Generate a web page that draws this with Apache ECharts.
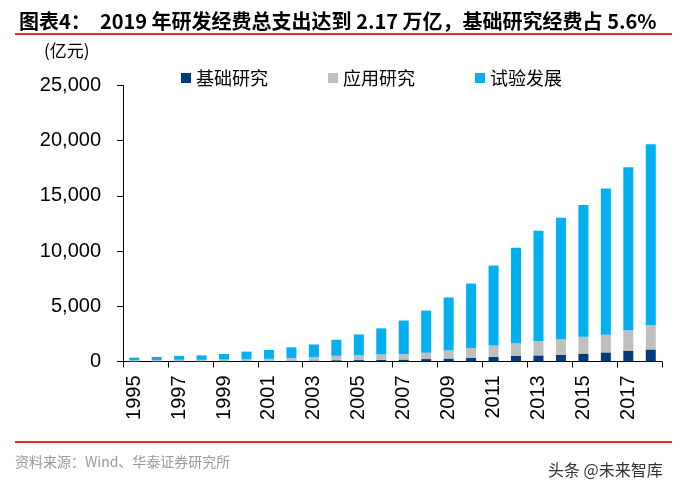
<!DOCTYPE html>
<html>
<head>
<meta charset="utf-8">
<script src="https://cdn.jsdelivr.net/npm/echarts@6/dist/echarts.min.js"></script>
<style>html,body{margin:0;padding:0;background:#fff}#c{width:686px;height:497px}</style>
</head>
<body>
<div id="c"></div>
<script>
var years = ['1995','1996','1997','1998','1999','2000','2001','2002','2003','2004','2005','2006','2007','2008','2009','2010','2011','2012','2013','2014','2015','2016','2017','2018'];
var basicResearch = [18, 20, 27, 29, 34, 47, 56, 74, 88, 117, 131, 156, 175, 221, 270, 325, 412, 499, 555, 614, 716, 823, 976, 1090];
var appliedResearch = [92, 99, 133, 125, 152, 152, 185, 247, 311, 401, 434, 489, 493, 575, 731, 894, 1028, 1162, 1269, 1399, 1529, 1611, 1849, 2191];
var experimentalDev = [239, 285, 349, 398, 493, 697, 802, 967, 1141, 1449, 1885, 2358, 3043, 3820, 4801, 5844, 7247, 8638, 10023, 11004, 11925, 13243, 14781, 16397];
var seriesNames = ['基础研究', '应用研究', '试验发展'];
var colors = ['#003B80', '#BFBFBF', '#00B0F0'];

var chart = echarts.init(document.getElementById('c'), null, {renderer: 'canvas'});
var cjk = '"Noto Sans CJK SC", sans-serif';
var latin = '"Liberation Sans", Arial, sans-serif';
function mk(name, data, i) {
  return {
    name: name, type: 'bar', stack: 'total', data: data,
    barWidth: 10, itemStyle: {color: colors[i]}
  };
}
chart.setOption({
  animation: false,
  title: {
    text: '图表4：  2019 年研发经费总支出达到 2.17 万亿，基础研究经费占 5.6%',
    left: 14, top: 6,
    textStyle: {fontFamily: cjk, fontSize: 20, fontWeight: 'bold', color: '#000'}
  },
  legend: {
    data: seriesNames,
    left: 176, top: 64,
    itemWidth: 10, itemHeight: 10, itemGap: 60,
    icon: 'rect',
    textStyle: {fontFamily: cjk, fontSize: 18, color: '#000'}
  },
  grid: {left: 123, right: 24, top: 85.5, bottom: 135.5, containLabel: false},
  xAxis: {
    type: 'category', data: years,
    axisLine: {lineStyle: {color: '#000', width: 1}},
    axisTick: {show: true, alignWithLabel: false, length: 6, lineStyle: {color: '#000'}},
    axisLabel: {
      rotate: 90, interval: 1, fontFamily: latin, fontSize: 20, color: '#000', margin: 14
    }
  },
  yAxis: {
    type: 'value', min: 0, max: 25000, interval: 5000,
    axisLine: {show: true, lineStyle: {color: '#000', width: 1}},
    axisTick: {show: true, length: 6, lineStyle: {color: '#000'}},
    splitLine: {show: false},
    axisLabel: {
      fontFamily: latin, fontSize: 20, color: '#000', margin: 22,
      formatter: function (v) { return v.toLocaleString('en-US'); }
    }
  },
  series: [mk(seriesNames[0], basicResearch, 0), mk(seriesNames[1], appliedResearch, 1), mk(seriesNames[2], experimentalDev, 2)],
  graphic: [
    {type: 'line', shape: {x1: 15, y1: 34, x2: 672, y2: 34}, style: {stroke: '#E52E1E', lineWidth: 2}},
    {type: 'line', shape: {x1: 15, y1: 442, x2: 672, y2: 442}, style: {stroke: '#E52E1E', lineWidth: 2}},
    {type: 'text', left: 44, top: 42, style: {text: '(亿元)', font: '17px ' + cjk, fill: '#000'}},
    {type: 'text', left: 15, top: 455, style: {text: '资料来源：Wind、华泰证券研究所', font: '14px ' + cjk, fill: '#999'}},
    {type: 'text', left: 548, top: 462, style: {text: '头条 @未来智库', font: '16px ' + cjk, fill: '#333'}}
  ]
});
</script>
</body>
</html>
